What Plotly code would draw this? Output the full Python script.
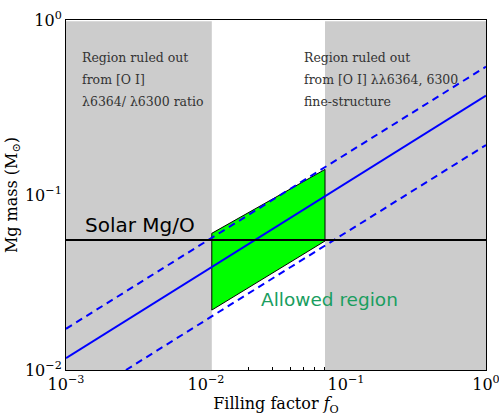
import plotly.graph_objects as go
import numpy as np

# Data
x_range = [1e-3, 1.0]
y_range = [1e-2, 1.0]
shade_top = 0.985                # gray shading stops just under the top frame
left_excl = [1e-3, 0.011]        # ruled out by ratio
right_excl = [0.0708, 1.0]       # ruled out by fine-structure
allowed_x = [0.011, 0.0708, 0.0708, 0.011]
allowed_y = [0.0604, 0.140, 0.0546, 0.0220]
fill_x = [1e-3, 1.0]
best_y = [0.0117, 0.370]
upper_y = [0.0172, 0.541]
lower_x = [0.00268, 1.0]
lower_y = [0.010, 0.193]
solar_y = 0.0553

fig = go.Figure()
GRAY = "#cccccc"
# gray excluded regions
for xs in (left_excl, right_excl):
    fig.add_trace(go.Scatter(x=[xs[0], xs[1], xs[1], xs[0], xs[0]],
                             y=[y_range[0], y_range[0], shade_top, shade_top, y_range[0]],
                             fill="toself", fillcolor=GRAY, line=dict(width=0),
                             mode="lines", hoverinfo="skip", showlegend=False))
# allowed region
fig.add_trace(go.Scatter(x=allowed_x + [allowed_x[0]], y=allowed_y + [allowed_y[0]],
                         fill="toself", fillcolor="#00ff00", line=dict(color="black", width=1),
                         mode="lines", showlegend=False))
# lines
fig.add_trace(go.Scatter(x=fill_x, y=upper_y, mode="lines",
                         line=dict(color="#0000ff", width=2, dash="7px,5px"), showlegend=False))
fig.add_trace(go.Scatter(x=lower_x, y=lower_y, mode="lines",
                         line=dict(color="#0000ff", width=2, dash="7px,5px"), showlegend=False))
fig.add_trace(go.Scatter(x=fill_x, y=best_y, mode="lines",
                         line=dict(color="#0000ff", width=2), showlegend=False))
fig.add_trace(go.Scatter(x=x_range, y=[solar_y, solar_y], mode="lines",
                         line=dict(color="black", width=2), showlegend=False))

SERIF = "DejaVu Serif"
tickfont = dict(family=SERIF, size=16, color="black")
xt = [1e-3, 1e-2, 1e-1, 1]
xtt = ["10<sup>−3</sup>", "10<sup>−2</sup>", "10<sup>−1</sup>", "10<sup>0</sup>"]
yt = [1e-2, 1e-1, 1]
ytt = ["10<sup>−2</sup>", "10<sup>−1</sup>", "10<sup>0</sup>"]
x_minor = [m * 10.0 ** d for d in (-3, -2, -1) for m in range(2, 10)]

axis_common = dict(type="log", showgrid=False, zeroline=False, showline=True, linecolor="black",
                   linewidth=1, mirror=True, tickcolor="black",
                   tickfont=tickfont, ticklabeloverflow="allow", automargin=False)
fig.update_xaxes(range=[np.log10(x_range[0]), np.log10(x_range[1])], tickvals=xt, ticktext=xtt,
                 ticks="inside", ticklen=5, layer="below traces",
                 minor=dict(ticks="inside", ticklen=3, tickcolor="black", showgrid=False,
                            tickvals=x_minor),
                 title=dict(text="Filling factor <i>f</i><sub>O</sub>",
                            font=dict(family=SERIF, size=16, color="black"), standoff=4),
                 **axis_common)
fig.update_yaxes(range=[np.log10(y_range[0]), np.log10(y_range[1])], tickvals=yt, ticktext=ytt,
                 ticks="", layer="above traces",
                 title=dict(text="Mg mass (M<sub>⊙</sub>)",
                            font=dict(family=SERIF, size=16, color="black"), standoff=3),
                 **axis_common)

W, H = 499, 417
L, R, T, B = 66, 13, 20, 47
pw, ph = W - L - R, H - T - B

def px(x):
    return (x - L) / pw

def py(y):
    return 1 - (y - T) / ph

txt_font = dict(family=SERIF, size=12.5, color="#333333")
left_lines = ["Region ruled out", "from [O I]", "λ6364/ λ6300 ratio"]
right_lines = ["Region ruled out", "from [O I] λλ6364, 6300", "fine-structure"]
line_y = [57, 79, 101]
for lines, x0 in ((left_lines, 80), (right_lines, 302)):
    for t, yy in zip(lines, line_y):
        fig.add_annotation(x=px(x0), y=py(yy), xref="paper", yref="paper", text=t,
                           showarrow=False, xanchor="left", yanchor="middle", font=txt_font)

fig.add_annotation(x=px(140), y=py(225), xref="paper", yref="paper", text="Solar Mg/O",
                   showarrow=False, xanchor="center", yanchor="middle",
                   font=dict(family="DejaVu Sans", size=20, color="black"))
fig.add_annotation(x=px(329), y=py(299), xref="paper", yref="paper", text="Allowed region",
                   showarrow=False, xanchor="center", yanchor="middle",
                   font=dict(family="DejaVu Sans", size=18.5, color="#1a9e5f"))

fig.update_layout(width=W, height=H, margin=dict(l=L, r=R, t=T, b=B),
                  plot_bgcolor="white", paper_bgcolor="white", showlegend=False)
fig.write_html("out.html")
